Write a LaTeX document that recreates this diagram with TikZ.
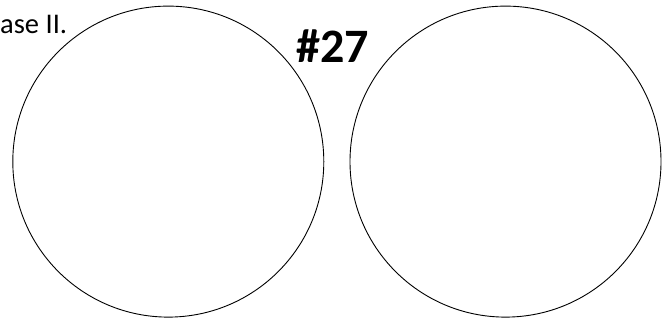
\documentclass[tikz,border=0pt]{standalone}
\usepackage{fontspec}
\setmainfont{Carlito}
\tikzset{
  disc/.style={circle, draw, line width=0.9pt, minimum size=311pt, inner sep=0pt},
  caption/.style={anchor=base west, inner sep=0pt, font=\fontsize{28.5}{32}\selectfont},
  tag/.style={anchor=base west, inner sep=0pt, font=\fontsize{48}{54}\selectfont\bfseries}
}
\begin{document}
\begin{tikzpicture}[x=1pt, y=-1pt]
  \useasboundingbox (0,0) rectangle (671,322);
  \node[disc] (left) at (168.3,161.6) {};
  \node[disc] (right) at (505.5,161.6) {};
  \node[caption] (phase) at (0,33) {ase II.};
  \node[tag] (number) at (296,62) {\#27};
\end{tikzpicture}
\end{document}
